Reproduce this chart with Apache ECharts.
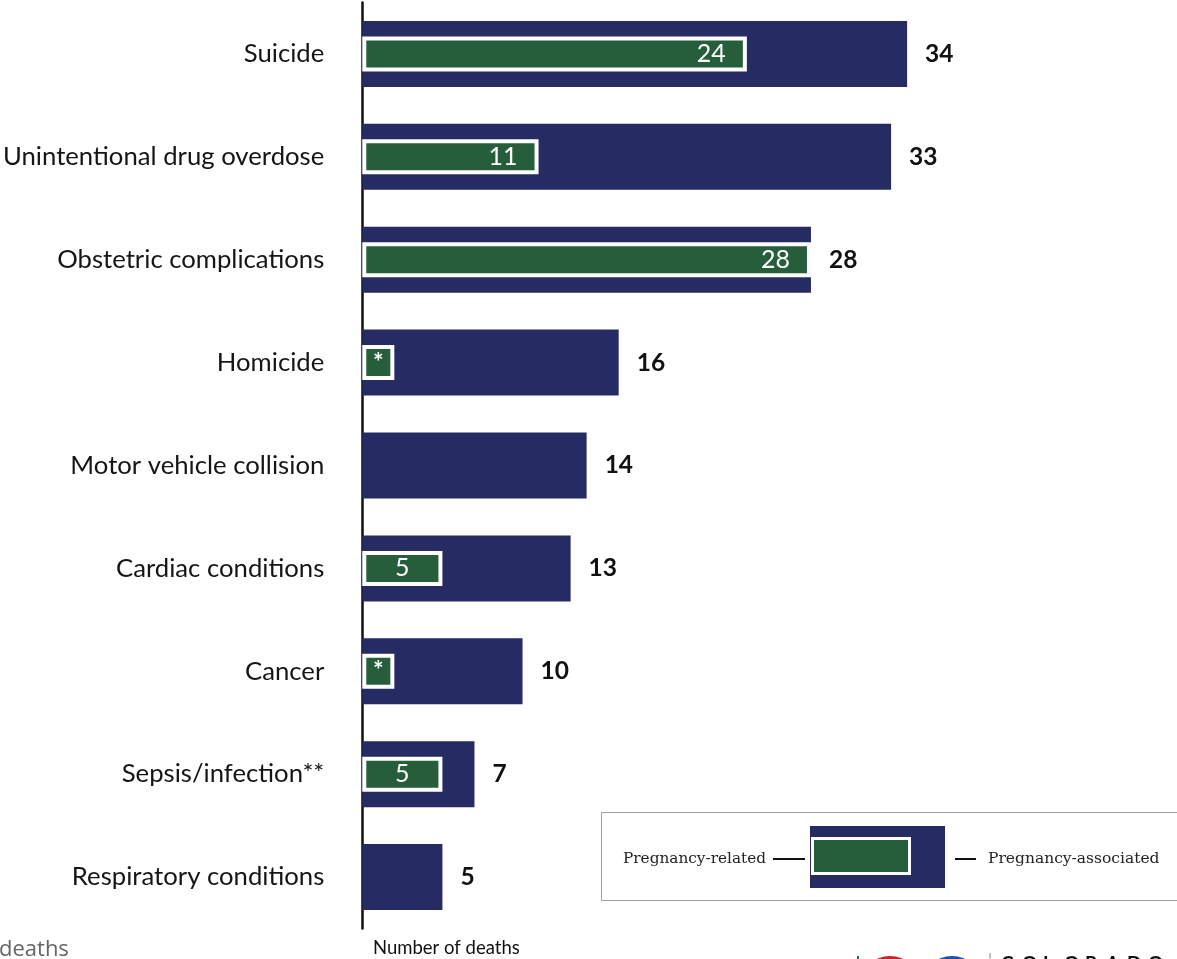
<!DOCTYPE html>
<html><head><meta charset="utf-8">
<script src="https://cdn.jsdelivr.net/npm/echarts@6/dist/echarts.min.js"></script>
<style>html,body{margin:0;padding:0;background:#fff}#c{width:1177px;height:959px}</style>
</head><body><div id="c"></div>
<script>
const categories = ['Suicide','Unintentional drug overdose','Obstetric complications','Homicide','Motor vehicle collision','Cardiac conditions','Cancer','Sepsis/infection**','Respiratory conditions'];
const associatedValues = [34, 33, 28, 16, 14, 13, 10, 7, 5];
const relatedValues = [24, 11, 28, 2, null, 5, 2, 5, null];
const relatedLabels = ['24', '11', '28', '*', '', '5', '*', '5', ''];
const relatedLabelPos = ['insideRight','insideRight','insideRight','inside','inside','inside','inside','inside','inside'];
const logoLetters = ['C','O','L','O','R','A','D','O'];

const BLUE = '#272b63', GREEN = '#265e3b';
const chart = echarts.init(document.getElementById('c'), null, {renderer:'canvas'});
const FONT = 'Lato';
const logo = logoLetters.map((ch, i) => ({
  type: 'text', x: 1001 + i * 21, y: 954,
  style: {text: ch, font: 'bold 19px Lato', fill: '#111', textVerticalAlign: 'top'}
}));
chart.setOption({
  animation: false,
  grid: {left: 359, right: 13.5, top: 2.5, bottom: 30.5, containLabel: false},
  xAxis: {type: 'value', min: 0, max: 50, show: false},
  yAxis: [{
    type: 'category', data: categories, inverse: true, offset: 0,
    axisLine: {show: true, lineStyle: {color: '#111', width: 2.5}},
    axisTick: {show: false},
    axisLabel: {color: '#151515', fontSize: 25.7, fontFamily: FONT, margin: 38}
  }, {
    type: 'category', data: categories, inverse: true, show: false
  }],
  series: [
    {
      type: 'bar', data: associatedValues, barWidth: 66, yAxisIndex: 0,
      itemStyle: {color: BLUE},
      label: {show: true, position: 'right', distance: 18, color: '#111', fontSize: 24.5, fontWeight: 'bold', fontFamily: FONT}
    },
    {
      type: 'bar', barWidth: 35, yAxisIndex: 1, z: 3,
      data: relatedValues.map((v, i) => ({
        value: v,
        label: {show: v != null, position: relatedLabelPos[i], distance: 21, formatter: relatedLabels[i],
                fontWeight: relatedLabels[i] === '*' ? 'bold' : 'normal'}
      })),
      itemStyle: {color: GREEN, borderColor: '#fff', borderWidth: 4},
      label: {color: '#fff', fontSize: 25, fontFamily: FONT}
    }
  ],
  graphic: [
    {type: 'rect', shape: {x: 601.5, y: 812.5, width: 600, height: 88}, style: {fill: '#fff', stroke: '#a0a0a0', lineWidth: 1}, z: 10},
    {type: 'text', x: 623, y: 859, style: {text: 'Pregnancy-related', font: '15.3px "DejaVu Serif"', fill: '#222', textVerticalAlign: 'middle'}, z: 11},
    {type: 'line', shape: {x1: 773, y1: 859, x2: 805, y2: 859}, style: {stroke: '#111', lineWidth: 2}, z: 11},
    {type: 'rect', shape: {x: 810, y: 826, width: 135, height: 62}, style: {fill: BLUE}, z: 11},
    {type: 'rect', shape: {x: 812.5, y: 838.5, width: 97, height: 35}, style: {fill: GREEN, stroke: '#fff', lineWidth: 3}, z: 12},
    {type: 'line', shape: {x1: 955, y1: 859, x2: 976, y2: 859}, style: {stroke: '#111', lineWidth: 2}, z: 11},
    {type: 'text', x: 988, y: 859, style: {text: 'Pregnancy-associated', font: '15.5px "DejaVu Serif"', fill: '#222', textVerticalAlign: 'middle'}, z: 11},
    {type: 'text', x: -1, y: 950, style: {text: 'deaths', font: '22px "Open Sans"', fill: '#666', textVerticalAlign: 'middle'}},
    {type: 'text', x: 373, y: 948, style: {text: 'Number of deaths', font: '18.5px ' + FONT, fill: '#111', textVerticalAlign: 'middle'}},
    {type: 'circle', shape: {cx: 890, cy: 986, r: 30}, style: {fill: '#c8242f'}},
    {type: 'circle', shape: {cx: 952, cy: 986, r: 30}, style: {fill: '#2350a5'}},
    {type: 'line', shape: {x1: 990, y1: 953, x2: 990, y2: 959}, style: {stroke: '#888', lineWidth: 1}},
    {type: 'line', shape: {x1: 858, y1: 956, x2: 858, y2: 959}, style: {stroke: '#3a6a4a', lineWidth: 2}}
  ].concat(logo)
});
</script></body></html>
